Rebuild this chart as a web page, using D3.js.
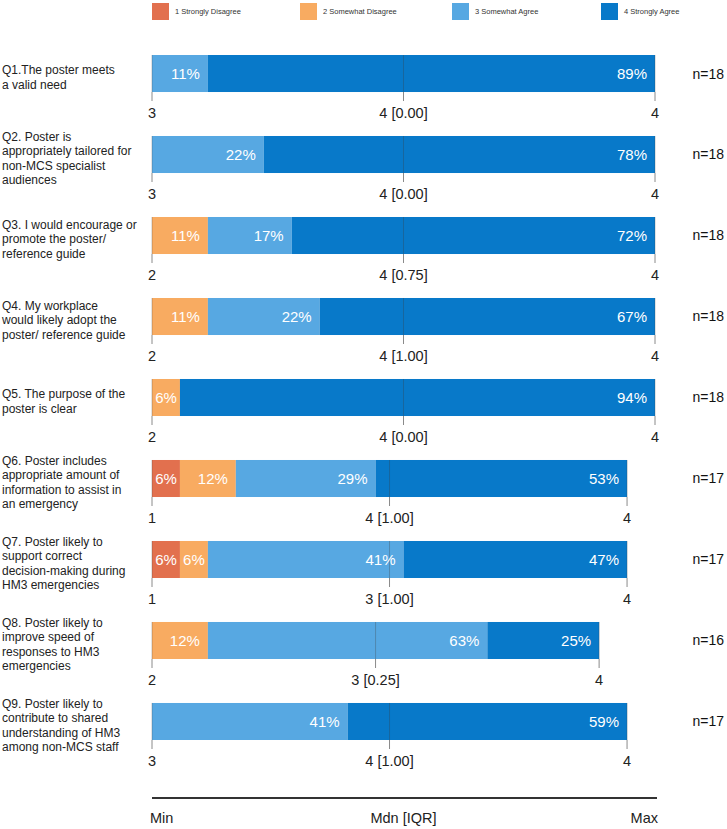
<!DOCTYPE html>
<html>
<head>
<meta charset="utf-8">
<script src="https://cdn.jsdelivr.net/npm/d3@7"></script>
<style>
    body { margin: 0; background: #fff; }
    svg { font-family: "Liberation Sans", Arial, sans-serif; display: block; }
</style>
</head>
<body>
<svg id="chart" width="727" height="829"></svg>
<script>
// Likert responses per question (counts of respondents)
var questions = ['Q1', 'Q2', 'Q3', 'Q4', 'Q5', 'Q6', 'Q7', 'Q8', 'Q9'];
var questionText = [
    ['Q1.The poster meets', 'a valid need'],
    ['Q2. Poster is', 'appropriately tailored for', 'non-MCS specialist', 'audiences'],
    ['Q3. I would encourage or', 'promote the poster/', 'reference guide'],
    ['Q4. My workplace', 'would likely adopt the', 'poster/ reference guide'],
    ['Q5. The purpose of the', 'poster is clear'],
    ['Q6. Poster includes', 'appropriate amount of', 'information to assist in', 'an emergency'],
    ['Q7. Poster likely to', 'support correct', 'decision-making during', 'HM3 emergencies'],
    ['Q8. Poster likely to', 'improve speed of', 'responses to HM3', 'emergencies'],
    ['Q9. Poster likely to', 'contribute to shared', 'understanding of HM3', 'among non-MCS staff']
];
var categories = ['1 Strongly Disagree', '2 Somewhat Disagree', '3 Somewhat Agree', '4 Strongly Agree'];
var colors = ['#e2704e', '#f8ab61', '#57a8e2', '#0879c9'];

var stronglyDisagree = [0, 0, 0, 0, 0, 1, 1, 0, 0];
var somewhatDisagree = [0, 0, 2, 2, 1, 2, 1, 2, 0];
var somewhatAgree    = [2, 4, 3, 4, 0, 5, 7, 10, 7];
var stronglyAgree    = [16, 14, 13, 12, 17, 9, 8, 4, 10];

// percent labels as printed
var pctStronglyDisagree = ['', '', '', '', '', '6%', '6%', '', ''];
var pctSomewhatDisagree = ['', '', '11%', '11%', '6%', '12%', '6%', '12%', ''];
var pctSomewhatAgree    = ['11%', '22%', '17%', '22%', '', '29%', '41%', '63%', '41%'];
var pctStronglyAgree    = ['89%', '78%', '72%', '67%', '94%', '53%', '47%', '25%', '59%'];

var mins    = [3, 3, 2, 2, 2, 1, 1, 2, 3];
var medians = [4, 4, 4, 4, 4, 4, 3, 3, 4];
var iqrs    = ['0.00', '0.00', '0.75', '1.00', '0.00', '1.00', '1.00', '0.25', '1.00'];
var maxs    = [4, 4, 4, 4, 4, 4, 4, 4, 4];

var countSeries = [stronglyDisagree, somewhatDisagree, somewhatAgree, stronglyAgree];
var pctSeries = [pctStronglyDisagree, pctSomewhatDisagree, pctSomewhatAgree, pctStronglyAgree];

var svg = d3.select('svg#chart');

// bar length is proportional to number of respondents
var x = d3.scaleLinear().domain([0, 18]).range([152, 655]);
var y = d3.scaleBand().domain(questions).range([55, 740]).paddingInner(0.543).paddingOuter(0);

// build rows
var rows = questions.map(function(q, i) {
    var segs = [];
    var start = 0;
    for (var k = 0; k < countSeries.length; k++) {
        var c = countSeries[k][i];
        segs.push({ k: k, x0: start, x1: start + c, pct: pctSeries[k][i] });
        start += c;
    }
    return { q: q, i: i, n: start, segs: segs };
});

// legend
var legendX = [152, 300, 452, 601];
var legend = svg.append('g').attr('class', 'legend');
categories.forEach(function(c, k) {
    legend.append('rect')
        .attr('x', legendX[k]).attr('y', 3)
        .attr('width', 17).attr('height', 17)
        .attr('fill', colors[k]);
    legend.append('text')
        .attr('x', legendX[k] + 23).attr('y', 14)
        .attr('font-size', 7.5)
        .attr('fill', '#333')
        .text(c);
});

var row = svg.selectAll('.row')
    .data(rows)
    .enter().append('g')
        .attr('class', 'row')
        .attr('transform', function(d) { return 'translate(0,' + y(d.q) + ')'; });

var bh = y.bandwidth();

// stacked segments
row.selectAll('rect.seg')
    .data(function(d) { return d.segs.filter(function(s) { return s.x1 > s.x0; }); })
    .enter().append('rect')
        .attr('class', 'seg')
        .attr('x', function(s) { return x(s.x0); })
        .attr('width', function(s) { return x(s.x1) - x(s.x0); })
        .attr('y', 0)
        .attr('height', bh)
        .attr('fill', function(s) { return colors[s.k]; });

// min / median / max ticks
row.each(function(d) {
    var g = d3.select(this);
    var xs = [x(0), (x(0) + x(d.n)) / 2, x(d.n)];
    xs.forEach(function(px) {
        g.append('line')
            .attr('x1', px).attr('x2', px)
            .attr('y1', 0).attr('y2', bh)
            .attr('stroke', 'rgba(60,60,60,0.3)')
            .attr('stroke-width', 1);
        g.append('line')
            .attr('x1', px).attr('x2', px)
            .attr('y1', bh).attr('y2', bh + 9)
            .attr('stroke', '#8a8a8a')
            .attr('stroke-width', 1);
    });
    var labels = [mins[d.i], medians[d.i] + ' [' + iqrs[d.i] + ']', maxs[d.i]];
    xs.forEach(function(px, j) {
        g.append('text')
            .attr('x', px).attr('y', bh + 26)
            .attr('text-anchor', 'middle')
            .attr('font-size', 14.5)
            .attr('fill', '#222')
            .text(labels[j]);
    });

    // n label
    g.append('text')
        .attr('x', 724).attr('y', bh / 2 + 5)
        .attr('text-anchor', 'end')
        .attr('font-size', 14)
        .attr('fill', '#111')
        .text('n=' + d.n);

    // question text
    var lines = questionText[d.i];
    var lh = 14.5;
    var top = bh / 2 + 4 - (lines.length - 1) * lh / 2;
    var t = g.append('text')
        .attr('font-size', 12)
        .attr('fill', '#222');
    lines.forEach(function(l, m) {
        t.append('tspan')
            .attr('x', 2)
            .attr('y', top + m * lh + 4)
            .text(l);
    });
});

// percent labels, right aligned in their segment
row.selectAll('text.pct')
    .data(function(d) { return d.segs.filter(function(s) { return s.x1 > s.x0 && s.pct; }); })
    .enter().append('text')
        .attr('class', 'pct')
        .attr('y', bh / 2 + 5.5)
        .attr('font-size', 15)
        .attr('fill', '#fff')
        .attr('text-anchor', 'end')
        .text(function(s) { return s.pct; })
        .attr('x', function(s) {
            var w = this.getComputedTextLength();
            var segW = x(s.x1) - x(s.x0);
            var pad = Math.min(8, Math.max(1, (segW - w) / 2));
            return x(s.x1) - pad;
        });

// bottom key
var key = svg.append('g');
key.append('line')
    .attr('x1', x(0)).attr('x2', x(18) + 2)
    .attr('y1', 798).attr('y2', 798)
    .attr('stroke', '#333')
    .attr('stroke-width', 2);
var keyText = [['Min', x(0) - 2, 'start'], ['Mdn [IQR]', (x(0) + x(18)) / 2, 'middle'], ['Max', x(18) + 3, 'end']];
keyText.forEach(function(k) {
    key.append('text')
        .attr('x', k[1]).attr('y', 823)
        .attr('text-anchor', k[2])
        .attr('font-size', 14.5)
        .attr('fill', '#222')
        .text(k[0]);
});
</script>
</body>
</html>
